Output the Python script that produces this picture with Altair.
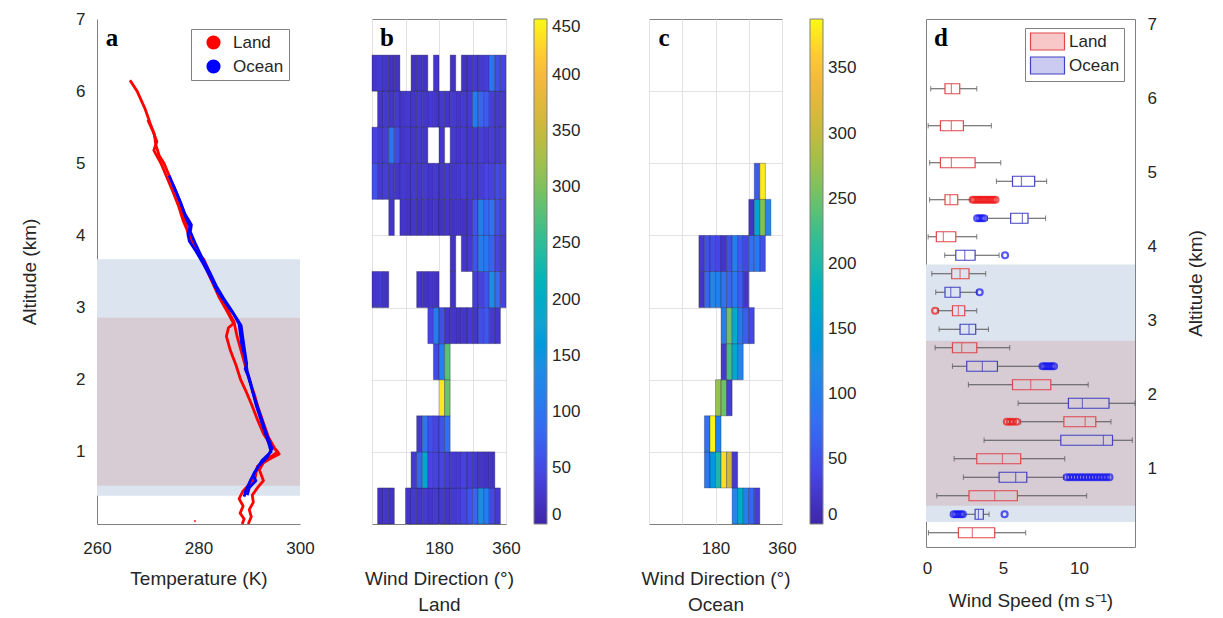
import altair as alt
import pandas as pd

FONT = "Liberation Sans"
SERIF = "Liberation Serif"
TXT = "#262626"
GRAY = "#808080"
GRID = "#e2e2e2"
BAND_BLUE = "#dce5ef"
BAND_MAUVE = "#d7cbd4"
PARULA = ["#3e26a8", "#4744e4", "#366ef2", "#288ae5", "#10a3d3", "#1cb7b0",
          "#4cbf80", "#98c050", "#d2b83c", "#fbb93e", "#f9f914"]

# ---------------- panel a : temperature profiles ----------------
land1_T = [266.5, 267.9, 269.5, 270.5, 271.3, 271.6, 272.3, 273.2, 274.4, 275.6, 276.6, 277.4, 278.1,
           279.5, 281.1, 282.4, 283.7, 285.5, 287.0, 287.6, 288.4, 289.2, 290.0, 291.0, 291.8, 292.8,
           293.8, 295.0, 295.9, 294.0, 292.8, 292.0, 292.8, 291.6, 290.6, 290.8, 290.0, 290.4, 289.8]
land1_alt = [6.15, 6.0, 5.75, 5.55, 5.4, 5.25, 5.1, 5.0, 4.8, 4.6, 4.4, 4.2, 4.0,
             3.8, 3.66, 3.45, 3.23, 3.0, 2.8, 2.6, 2.4, 2.2, 2.0, 1.8, 1.6, 1.4,
             1.2, 1.05, 0.97, 0.9, 0.85, 0.75, 0.6, 0.5, 0.4, 0.3, 0.2, 0.1, 0.0]
land2_T = [270.0, 271.0, 271.8, 271.2, 272.6, 273.8, 275.0, 276.1, 277.0, 277.9, 279.2, 280.8, 282.4,
           284.0, 285.6, 286.9, 285.9, 285.5, 286.3, 287.4, 288.3, 289.3, 290.5, 291.6, 292.8, 294.2,
           295.6, 293.2, 291.6, 291.2, 290.0, 288.7, 288.0, 288.8, 288.2, 289.0, 288.6]
land2_alt = [5.6, 5.45, 5.3, 5.18, 5.0, 4.8, 4.6, 4.4, 4.2, 4.05, 3.85, 3.65, 3.4,
             3.15, 2.95, 2.78, 2.72, 2.6, 2.4, 2.2, 2.0, 1.85, 1.65, 1.45, 1.25, 1.1,
             1.0, 0.88, 0.8, 0.65, 0.55, 0.45, 0.35, 0.25, 0.15, 0.07, 0.0]
ocean1_T = [274.2, 275.3, 276.5, 277.5, 278.3, 277.9, 278.2, 279.5, 281.0, 282.5, 283.7, 285.5, 287.0,
            288.0, 288.5, 289.2, 289.6, 290.3, 291.3, 292.5, 293.9, 294.3, 292.5, 291.0, 290.2, 289.3, 289.0]
ocean1_alt = [4.83, 4.65, 4.45, 4.25, 4.12, 4.02, 3.92, 3.78, 3.6, 3.4, 3.23, 3.05, 2.9,
              2.77, 2.5, 2.3, 2.12, 1.95, 1.66, 1.4, 1.1, 1.0, 0.88, 0.71, 0.6, 0.46, 0.38]
ocean2_T = [275.0, 276.2, 277.3, 278.6, 278.4, 279.3, 280.5, 282.0, 283.5, 285.2, 286.8, 288.4, 289.0,
            289.5, 289.2, 289.8, 290.8, 292.0, 293.4, 294.5, 293.5, 291.8, 290.8, 291.3, 290.0, 289.6]
ocean2_alt = [4.7, 4.5, 4.3, 4.15, 4.05, 3.9, 3.72, 3.52, 3.3, 3.1, 2.93, 2.75, 2.45,
              2.22, 2.15, 2.05, 1.8, 1.55, 1.25, 1.05, 0.92, 0.8, 0.68, 0.6, 0.5, 0.4]
stray_T = [279.3]
stray_alt = [0.04]

band_a_lo = [0.39, 0.53]
band_a_hi = [3.67, 2.86]
band_d_lo = [0.27, 0.49]
band_d_hi = [3.75, 2.72]

# ---------------- panels b, c : wind direction histograms ----------------
dir_edges = [0, 15, 30, 45, 60, 75, 90, 105, 120, 135, 150, 165, 180, 195, 210, 225, 240,
             255, 270, 285, 300, 315, 330, 345, 360]
alt_edges = [0.0, 0.5, 1.0, 1.5, 2.0, 2.5, 3.0, 3.5, 4.0, 4.5, 5.0, 5.5, 6.0, 6.5]

land_counts = [
    [0, 20, 25, 20, 0, 0, 25, 30, 25, 30, 25, 30, 30, 25, 30, 35, 45, 60, 80, 140, 110, 50, 30, 0],
    [0, 0, 0, 0, 0, 0, 0, 30, 80, 190, 45, 40, 45, 35, 30, 30, 40, 35, 30, 25, 20, 20, 0, 0],
    [0, 0, 0, 0, 0, 0, 0, 0, 30, 100, 55, 45, 60, 90, 0, 0, 0, 0, 0, 0, 0, 0, 0, 0],
    [0, 0, 0, 0, 0, 0, 0, 0, 0, 0, 0, 0, 440, 290, 0, 0, 0, 0, 0, 0, 0, 0, 0, 0],
    [0, 0, 0, 0, 0, 0, 0, 0, 0, 0, 0, 50, 120, 280, 0, 0, 0, 0, 0, 0, 0, 0, 0, 0],
    [0, 0, 0, 0, 0, 0, 0, 0, 0, 0, 45, 110, 55, 25, 25, 20, 25, 30, 25, 55, 65, 30, 25, 0],
    [25, 30, 20, 0, 0, 0, 0, 0, 25, 20, 25, 20, 0, 0, 20, 0, 0, 0, 35, 40, 60, 140, 85, 40],
    [0, 0, 0, 0, 0, 0, 0, 0, 0, 0, 0, 0, 0, 0, 20, 0, 25, 30, 60, 110, 100, 75, 45, 35],
    [0, 0, 0, 25, 0, 25, 20, 25, 20, 25, 20, 25, 20, 25, 20, 25, 20, 25, 60, 110, 80, 95, 55, 40],
    [60, 30, 35, 30, 25, 30, 25, 30, 25, 30, 25, 30, 25, 30, 25, 30, 35, 30, 30, 35, 45, 40, 50, 45],
    [40, 30, 35, 100, 50, 25, 30, 25, 30, 25, 0, 0, 25, 0, 30, 25, 30, 25, 30, 35, 30, 35, 30, 35],
    [0, 25, 30, 25, 30, 25, 30, 25, 30, 25, 30, 25, 30, 25, 30, 25, 30, 30, 110, 80, 70, 35, 30, 30],
    [25, 30, 25, 20, 20, 0, 0, 20, 25, 20, 0, 25, 0, 0, 20, 0, 20, 25, 30, 30, 35, 100, 55, 45],
]
ocean_counts = [
    [0, 0, 0, 0, 0, 0, 0, 0, 0, 0, 0, 0, 0, 0, 0, 110, 170, 100, 70, 30, 0, 0, 0, 0],
    [0, 0, 0, 0, 0, 0, 0, 0, 0, 0, 90, 140, 200, 370, 310, 25, 0, 0, 0, 0, 0, 0, 0, 0],
    [0, 0, 0, 0, 0, 0, 0, 0, 0, 0, 80, 385, 100, 0, 0, 0, 0, 0, 0, 0, 0, 0, 0, 0],
    [0, 0, 0, 0, 0, 0, 0, 0, 0, 0, 0, 0, 270, 250, 30, 0, 0, 0, 0, 0, 0, 0, 0, 0],
    [0, 0, 0, 0, 0, 0, 0, 0, 0, 0, 0, 0, 0, 25, 230, 160, 110, 0, 0, 0, 0, 0, 0, 0],
    [0, 0, 0, 0, 0, 0, 0, 0, 0, 0, 0, 0, 0, 100, 250, 170, 90, 60, 40, 0, 0, 0, 0, 0],
    [0, 0, 0, 0, 0, 0, 0, 0, 0, 20, 70, 110, 100, 80, 70, 90, 60, 20, 0, 0, 0, 0, 0, 0],
    [0, 0, 0, 0, 0, 0, 0, 0, 0, 25, 50, 45, 40, 20, 50, 100, 60, 40, 80, 90, 50, 0, 0, 0],
    [0, 0, 0, 0, 0, 0, 0, 0, 0, 0, 0, 0, 0, 0, 0, 0, 0, 0, 20, 160, 260, 110, 0, 0],
    [0, 0, 0, 0, 0, 0, 0, 0, 0, 0, 0, 0, 0, 0, 0, 0, 0, 0, 0, 60, 380, 0, 0, 0],
    [0] * 24,
    [0] * 24,
    [0] * 24,
]
land_cbar_max = 450
land_cbar_ticks = [0, 50, 100, 150, 200, 250, 300, 350, 400, 450]
ocean_cbar_max = 388
ocean_cbar_ticks = [0, 50, 100, 150, 200, 250, 300, 350]

# ---------------- panel d : wind speed box plots ----------------
land_alt_d = [0.125, 0.625, 1.125, 1.625, 2.125, 2.625, 3.125, 3.625, 4.125, 4.625, 5.125, 5.625, 6.125]
land_wl = [0.09, 0.64, 1.78, 6.16, 2.72, 0.53, 0.75, 0.31, 0.07, 0.17, 0.17, 0.07, 0.24]
land_q1 = [2.06, 2.76, 3.27, 9.0, 5.62, 1.67, 1.67, 1.62, 0.61, 1.18, 0.88, 0.88, 1.18]
land_med = [2.98, 4.45, 4.96, 10.4, 6.82, 2.28, 2.06, 2.17, 1.07, 1.51, 1.6, 1.6, 1.6]
land_q3 = [4.45, 5.94, 6.16, 11.1, 8.14, 3.27, 2.48, 2.76, 1.89, 2.02, 3.16, 2.39, 2.15]
land_wr = [6.49, 10.5, 9.06, 12.1, 10.6, 5.44, 3.27, 3.86, 3.27, 2.85, 4.85, 4.23, 3.27]

ocean_alt_d = [0.375, 0.875, 1.375, 1.875, 2.375, 2.875, 3.375, 3.875, 4.375, 4.875]
ocean_wl = [2.44, 2.39, 3.75, 5.99, 1.67, 0.79, 0.57, 1.16, 3.97, 4.56]
ocean_q1 = [3.16, 4.74, 8.8, 9.3, 2.61, 2.17, 1.18, 1.89, 5.5, 5.62]
ocean_med = [3.38, 5.83, 11.6, 10.22, 3.64, 2.76, 1.56, 2.48, 6.27, 6.21]
ocean_q3 = [3.7, 6.56, 12.2, 11.97, 4.63, 3.2, 2.17, 3.16, 6.64, 7.08]
ocean_wr = [4.08, 8.97, 13.5, 13.68, 7.45, 4.04, 3.27, 4.74, 7.8, 7.87]

land_out_alt = [4.625, 4.625, 4.625, 4.625, 4.625, 4.625, 4.625, 4.625, 4.625, 4.625, 4.625,
                3.125, 1.625, 1.625, 1.625, 1.625]
land_out_val = [3.0, 3.15, 3.3, 3.45, 3.6, 3.75, 3.9, 4.05, 4.2, 4.35, 4.5,
                0.53, 5.25, 5.45, 5.65, 5.9]
ocean_out_alt = [4.375, 4.375, 4.375, 4.375, 3.875, 3.375,
                 2.375, 2.375, 2.375, 2.375, 2.375, 2.375,
                 0.875, 0.875, 0.875, 0.875, 0.875, 0.875, 0.875, 0.875, 0.875, 0.875, 0.875,
                 0.875, 0.875, 0.875, 0.875,
                 0.375, 0.375, 0.375, 0.375, 0.375, 0.375]
ocean_out_val = [3.3, 3.45, 3.6, 3.75, 5.13, 3.46,
                 7.6, 7.75, 7.9, 8.05, 8.2, 8.35,
                 9.2, 9.4, 9.6, 9.8, 10.0, 10.2, 10.4, 10.6, 10.8, 11.0, 11.2,
                 11.4, 11.6, 11.8, 12.0,
                 1.75, 1.9, 2.05, 2.2, 2.35, 5.1]

GROUPS = ["Land", "Ocean"]
LINE_COLORS = ["#ff0000", "#0000ff"]
BOX_COLORS = ["#e0474c", "#4242c2"]
PATCH_FILLS = ["#f8c8c9", "#cbcbf2"]
OUT_COLORS = ["#f01414", "#1414f0"]
WHISKER = "#555555"

# ---------------- sizes ----------------
W_A, H = 203, 505
W_B, W_C = 134, 133
W_D, H_D = 209, 528
GAP_AB, GAP_BC, GAP_CD = 72, 143, 144

y7 = alt.Scale(domain=[0, 7], nice=False, zero=False)


def letter(ch):
    return alt.Chart(pd.DataFrame({"t": [ch]})).mark_text(
        font=SERIF, fontWeight="bold", fontSize=25, align="center", baseline="alphabetic", color="black"
    ).encode(x=alt.value(15), y=alt.value(27), text="t:N")


def band(lo, hi, color, yscale, yaxis):
    return alt.Chart(pd.DataFrame({"lo": [lo], "hi": [hi]})).mark_rect(color=color).encode(
        x=alt.value(0), x2=alt.value("width"),
        y=alt.Y("lo:Q", scale=yscale, axis=yaxis), y2="hi:Q")


def only(group):
    return "datum.group == '%s'" % group


# ---------- panel a ----------
rows = []
for pid, grp, Ts, As in [("L1", "Land", land1_T, land1_alt), ("L2", "Land", land2_T, land2_alt),
                         ("O1", "Ocean", ocean1_T, ocean1_alt), ("O2", "Ocean", ocean2_T, ocean2_alt)]:
    for i, (t, a) in enumerate(zip(Ts, As)):
        rows.append({"pid": pid, "group": grp, "T": t, "alt": a, "seq": i})
prof_df = pd.DataFrame(rows)

xa = alt.Scale(domain=[260, 300], nice=False, zero=False)
axis_xa = alt.Axis(values=[260, 280, 300], title="Temperature (K)", ticks=False, grid=False,
                   labelPadding=16, titlePadding=13)
axis_ya = alt.Axis(values=[1, 2, 3, 4, 5, 6, 7], title="Altitude (km)", ticks=False, grid=False,
                   labelPadding=12, titlePadding=36)
color_a = alt.Scale(domain=GROUPS, range=LINE_COLORS)


def profile_lines(group, color):
    return alt.Chart(prof_df).transform_filter(only(group)).mark_line(
        strokeWidth=2.8, strokeJoin="round", color=color).encode(
        x=alt.X("T:Q", scale=xa, axis=axis_xa),
        y=alt.Y("alt:Q", scale=y7, axis=axis_ya),
        detail="pid:N", order="seq:Q")


legend_a = alt.Chart(prof_df).transform_filter("false").mark_circle(size=200, opacity=1).encode(
    x=alt.X("T:Q", scale=xa, axis=axis_xa),
    y=alt.Y("alt:Q", scale=y7, axis=axis_ya),
    color=alt.Color("group:N", scale=color_a, legend=alt.Legend(
        orient="none", legendX=94, legendY=10, title=None, symbolType="circle", symbolSize=200,
        labelFontSize=17, labelOffset=11, padding=5, rowPadding=6, fillColor="white",
        strokeColor=GRAY, labelColor=TXT, labelFont=FONT, symbolOffset=9)))
stray_a = alt.Chart(pd.DataFrame({"T": stray_T, "alt": stray_alt})).mark_point(
    filled=True, size=6, color="#ff0000").encode(
    x=alt.X("T:Q", scale=xa, axis=axis_xa), y=alt.Y("alt:Q", scale=y7, axis=axis_ya))

panel_a = alt.layer(
    band(band_a_lo[0], band_a_hi[0], BAND_BLUE, y7, axis_ya),
    band(band_a_lo[1], band_a_hi[1], BAND_MAUVE, y7, axis_ya),
    profile_lines("Land", LINE_COLORS[0]), profile_lines("Ocean", LINE_COLORS[1]),
    stray_a, legend_a, letter("a")
).properties(width=W_A, height=H, view=alt.ViewBackground(stroke="transparent"))


# ---------- panels b, c ----------
def heat_df(counts):
    out = []
    for r, row in enumerate(counts):
        for c, n in enumerate(row):
            if n > 0:
                out.append({"d0": dir_edges[c], "d1": dir_edges[c + 1],
                            "a0": alt_edges[r], "a1": alt_edges[r + 1], "n": n})
    return pd.DataFrame(out)


def heat_panel(counts, vmax, ticks, sub, ch, width, cbar_x):
    k = len(PARULA) - 1
    stops = [vmax * i / k for i in range(k + 1)]
    rect = alt.Chart(heat_df(counts)).mark_rect(
        stroke="#1c1c3c", strokeWidth=0.6, strokeOpacity=0.55).encode(
        x=alt.X("d0:Q", scale=alt.Scale(domain=[0, 360], nice=False, zero=False),
                axis=alt.Axis(values=[0, 90, 180, 270, 360],
                              labelExpr="datum.value == 180 || datum.value == 360 ? datum.label : ''",
                              grid=True, gridColor=GRID, ticks=False, domain=False,
                              title=["Wind Direction (°)", sub], titleLineHeight=26,
                              labelPadding=16, titlePadding=13)),
        x2="d1:Q",
        y=alt.Y("a0:Q", scale=y7,
                axis=alt.Axis(values=[1, 2, 3, 4, 5, 6], labels=False, ticks=False, domain=False,
                              grid=True, gridColor=GRID, title=None)),
        y2="a1:Q",
        color=alt.Color("n:Q", scale=alt.Scale(domain=stops, range=PARULA),
                        legend=alt.Legend(orient="none", legendX=cbar_x, legendY=0, direction="vertical",
                                          title=None, gradientLength=H, gradientThickness=13,
                                          values=ticks, labelOverlap=False, labelBaseline="middle",
                                          labelFontSize=17, labelOffset=5, labelColor=TXT, labelFont=FONT,
                                          gradientStrokeColor=GRAY, gradientStrokeWidth=1, padding=0)))
    return alt.layer(rect, letter(ch)).properties(
        width=width, height=H, view=alt.ViewBackground(stroke=GRAY))


panel_b = heat_panel(land_counts, land_cbar_max, land_cbar_ticks, "Land", "b", W_B, 162)
panel_c = heat_panel(ocean_counts, ocean_cbar_max, ocean_cbar_ticks, "Ocean", "c", W_C, 161)

# ---------- panel d ----------
box_df = pd.concat([
    pd.DataFrame({"group": "Land", "alt": land_alt_d, "wl": land_wl, "q1": land_q1,
                  "med": land_med, "q3": land_q3, "wr": land_wr}),
    pd.DataFrame({"group": "Ocean", "alt": ocean_alt_d, "wl": ocean_wl, "q1": ocean_q1,
                  "med": ocean_med, "q3": ocean_q3, "wr": ocean_wr}),
], ignore_index=True)
out_df = pd.concat([
    pd.DataFrame({"group": "Land", "alt": land_out_alt, "v": land_out_val}),
    pd.DataFrame({"group": "Ocean", "alt": ocean_out_alt, "v": ocean_out_val}),
], ignore_index=True)

xd = alt.Scale(domain=[-0.07, 13.68], nice=False, zero=False)
yd = alt.Scale(domain=[0, 7], nice=False, zero=False)
axis_xd = alt.Axis(values=[0, 5, 10], title="Wind Speed (m s⁻¹)", ticks=False, domain=False, grid=False,
                   labelPadding=13, titlePadding=15)
axis_yd = alt.Axis(orient="right", values=[1, 2, 3, 4, 5, 6, 7], title="Altitude (km)", ticks=False,
                   domain=False, grid=False, labelPadding=12, titlePadding=49, titleAngle=270)
stroke_d = alt.Scale(domain=GROUPS, range=BOX_COLORS)
fill_d = alt.Scale(domain=GROUPS, range=PATCH_FILLS)
VLINE = "M0,-1L0,1"
WIDE_RECT = "M-2,-1L2,-1L2,1L-2,1Z"
LEG_D = alt.Legend(orient="none", legendX=99, legendY=9, title=None, symbolType=WIDE_RECT,
                   symbolSize=289, symbolStrokeWidth=1.2, symbolOffset=9, labelFontSize=17,
                   labelOffset=12, padding=4, rowPadding=1, fillColor="white", strokeColor=GRAY,
                   labelColor=TXT, labelFont=FONT)


def X(f):
    return alt.X(f + ":Q", scale=xd, axis=axis_xd)


Yd = alt.Y("alt:Q", scale=yd, axis=axis_yd)

whisk_l = alt.Chart(box_df).mark_rule(color=WHISKER, strokeWidth=1).encode(x=X("wl"), x2="q1:Q", y=Yd)
whisk_r = alt.Chart(box_df).mark_rule(color=WHISKER, strokeWidth=1).encode(x=X("q3"), x2="wr:Q", y=Yd)
cap_l = alt.Chart(box_df).mark_point(shape=VLINE, size=30, filled=False, color=WHISKER,
                                     strokeWidth=1).encode(x=X("wl"), y=Yd)
cap_r = alt.Chart(box_df).mark_point(shape=VLINE, size=30, filled=False, color=WHISKER,
                                     strokeWidth=1).encode(x=X("wr"), y=Yd)


def boxes(group, color):
    return alt.Chart(box_df).transform_filter(only(group)).mark_bar(
        size=10, fill="transparent", stroke=color, strokeWidth=1.2).encode(x=X("q1"), x2="q3:Q", y=Yd)


def medians(group, color):
    return alt.Chart(box_df).transform_filter(only(group)).mark_point(
        shape=VLINE, size=100, filled=False, strokeWidth=1.2, color=color).encode(x=X("med"), y=Yd)


def outliers(group, color):
    return alt.Chart(out_df).transform_filter(only(group)).mark_point(
        filled=False, size=36, strokeWidth=2.2, color=color).encode(x=X("v"), y=Yd)


legend_d = alt.Chart(box_df).transform_filter("false").mark_point(
    shape=WIDE_RECT, filled=True, strokeWidth=1.2, opacity=1).encode(
    x=X("med"), y=Yd,
    fill=alt.Fill("group:N", scale=fill_d, legend=LEG_D),
    stroke=alt.Stroke("group:N", scale=stroke_d, legend=LEG_D))

panel_d = alt.layer(
    band(band_d_lo[0], band_d_hi[0], BAND_BLUE, yd, axis_yd),
    band(band_d_lo[1], band_d_hi[1], BAND_MAUVE, yd, axis_yd),
    whisk_l, whisk_r, cap_l, cap_r,
    boxes("Land", BOX_COLORS[0]), boxes("Ocean", BOX_COLORS[1]),
    medians("Land", BOX_COLORS[0]), medians("Ocean", BOX_COLORS[1]),
    outliers("Land", OUT_COLORS[0]), outliers("Ocean", OUT_COLORS[1]),
    legend_d, letter("d")
).properties(width=W_D, height=H_D, view=alt.ViewBackground(stroke=GRAY))


def spacer(w):
    return alt.Chart(pd.DataFrame({"v": [0]})).mark_point(opacity=0).encode(
        x=alt.X("v:Q", axis=None), y=alt.Y("v:Q", axis=None)
    ).properties(width=w, height=H, view=alt.ViewBackground(stroke="transparent"))


chart = alt.hconcat(
    panel_a, spacer(GAP_AB), panel_b, spacer(GAP_BC), panel_c, spacer(GAP_CD), panel_d,
    spacing=0, bounds="flush"
).resolve_scale(
    x="independent", y="independent", color="independent", fill="independent", stroke="independent"
).resolve_legend(
    color="independent", fill="independent", stroke="independent"
).properties(
    padding={"left": 20, "top": 9, "right": 4, "bottom": 4}, background="white"
).configure(font=FONT).configure_view(stroke="transparent").configure_axis(
    labelFont=FONT, titleFont=FONT, labelFontSize=17, titleFontSize=19, labelColor=TXT,
    titleColor=TXT, titleFontWeight="normal", domainColor=GRAY, tickColor=GRAY, labelFlush=False
).configure_legend(gradientVerticalMaxLength=700, gradientHorizontalMaxLength=700)

chart.save("out.html", embed_options={"renderer": "svg", "actions": False})
